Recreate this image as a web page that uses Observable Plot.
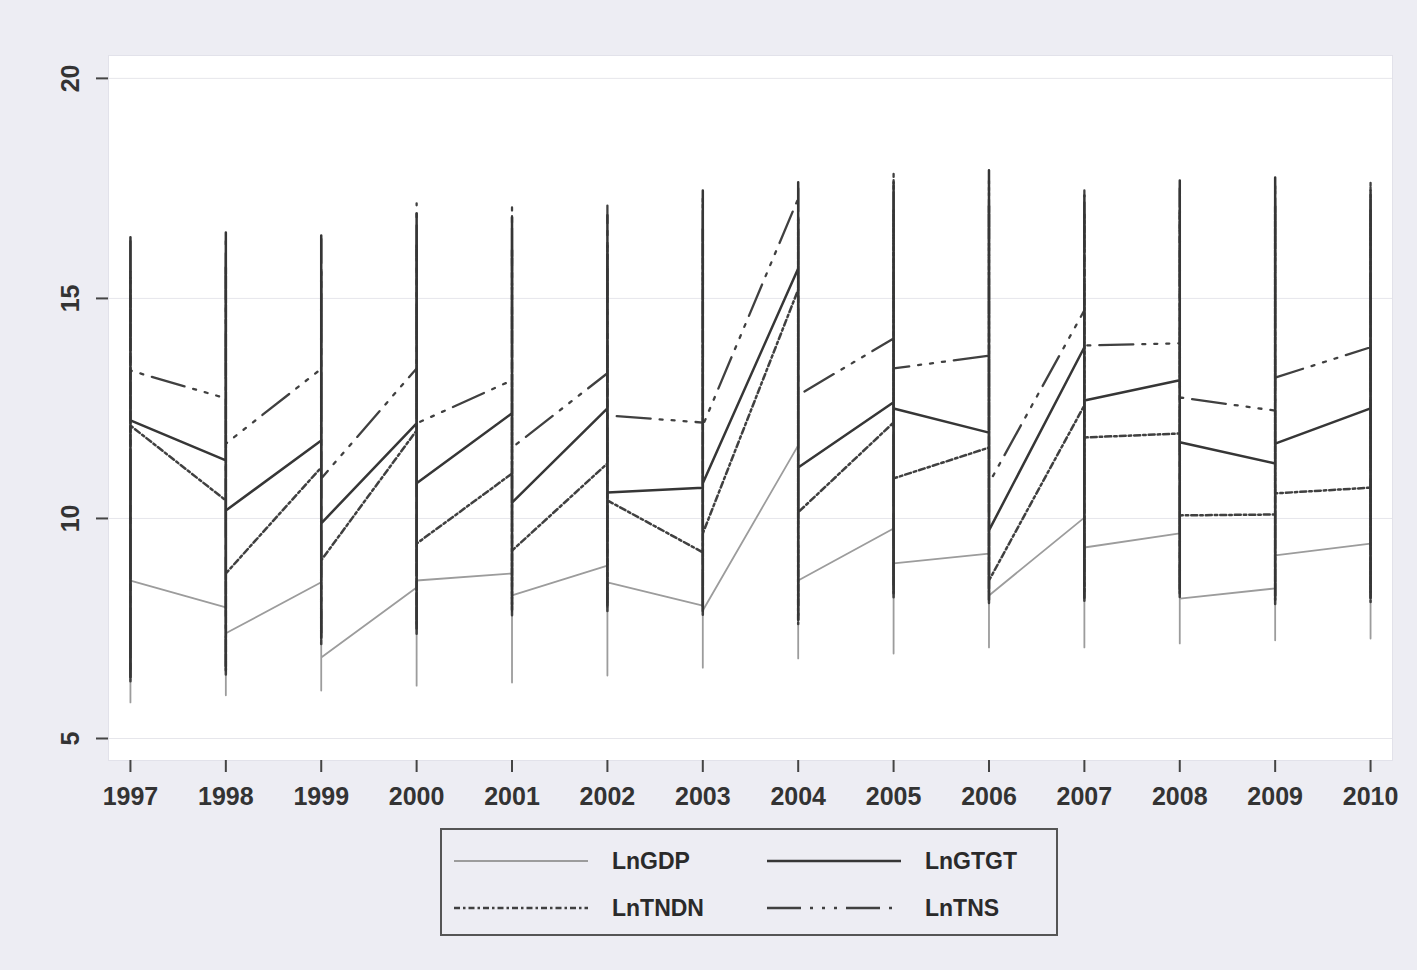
<!DOCTYPE html>
<html><head><meta charset="utf-8">
<script src="https://cdn.jsdelivr.net/npm/d3@7"></script>
<script src="https://cdn.jsdelivr.net/npm/@observablehq/plot@0.6"></script>
<style>
body{margin:0;background:#ededf3;font-family:"Liberation Sans",Arial,sans-serif;}
#wrap{position:relative;width:1417px;height:970px;overflow:hidden;}
#chart{position:absolute;left:0;top:0;}
#legend{position:absolute;left:440px;top:828px;width:614px;height:104px;border:2px solid #555;box-sizing:content-box;}
.item{position:absolute;height:30px;display:flex;align-items:center;}
.item span{font-size:23px;color:#2a2a2a;margin-left:22px;font-weight:bold;}
</style></head><body>
<div id="wrap"><div id="chart"></div><div id="legend"></div></div>
<script>
const years = [1997,1998,1999,2000,2001,2002,2003,2004,2005,2006,2007,2008,2009,2010];
const yTicks = [5,10,15,20];

// value where each series enters a year (first province) and leaves it (last province), plus the yearly min/max
const gdpIn   = [8.20,7.98,8.55,8.43,8.75,8.93,8.02,11.66,9.77,9.20,10.02,9.66,8.41,9.43];
const gdpOut  = [8.59,7.39,6.84,8.59,8.25,8.55,7.91,8.59,8.98,8.25,9.34,8.18,9.16,9.30];
const gdpLo   = [5.82,5.98,6.09,6.20,6.27,6.43,6.61,6.82,6.93,7.07,7.07,7.16,7.23,7.27];
const gdpHi   = [11.3,11.2,11.5,11.6,11.5,11.8,11.9,12.1,12.0,12.3,12.4,12.3,12.6,12.7];

const gtgtIn  = [12.00,11.32,11.77,12.16,12.39,12.50,10.70,15.68,12.64,11.95,13.89,13.14,11.25,12.50];
const gtgtOut = [12.23,10.18,9.89,10.80,10.36,10.59,10.80,11.16,12.50,9.73,12.68,11.73,11.70,12.30];
const gtgtLo  = [6.40,6.55,7.30,7.50,7.90,8.00,7.90,7.70,8.30,8.15,8.20,8.30,8.15,8.20];
const gtgtHi  = [16.39,16.50,16.43,16.93,16.84,16.89,17.45,17.64,17.64,17.91,17.34,17.68,17.75,17.45];

const tndnIn  = [11.50,10.41,11.16,12.00,11.02,11.25,9.23,15.20,12.18,11.61,12.57,11.93,10.09,10.70];
const tndnOut = [12.11,8.75,9.05,9.43,9.27,10.41,9.66,10.14,10.91,8.59,11.84,10.07,10.57,10.60];
const tndnLo  = [6.30,6.45,7.15,7.35,7.80,7.90,7.80,7.60,8.20,8.05,8.10,8.20,8.05,8.10];
const tndnHi  = [15.6,15.7,15.6,16.2,16.1,16.2,16.6,16.8,17.0,17.1,16.9,17.0,17.1,17.0];

const tnsIn   = [13.00,12.73,13.40,13.41,13.14,13.30,12.18,17.27,14.09,13.70,14.73,13.98,12.45,13.89];
const tnsOut  = [13.36,11.70,10.91,12.16,11.61,12.34,12.11,12.80,13.41,10.80,13.93,12.75,13.20,13.50];
const tnsLo   = [6.50,6.65,7.40,7.60,8.00,8.10,8.00,7.80,8.40,8.25,8.30,8.40,8.25,8.30];
const tnsHi   = [16.30,16.40,16.35,17.16,17.07,17.11,17.30,17.50,17.86,17.70,17.52,17.50,17.60,17.68];

const series = [
  {key:"LnGDP",  first:gdpIn,  last:gdpOut,  lo:gdpLo,  hi:gdpHi,  stroke:"#9c9c9c", width:1.8, dash:null},
  {key:"LnTNDN", first:tndnIn, last:tndnOut, lo:tndnLo, hi:tndnHi, stroke:"#404040", width:2.5, dash:"6,3,2.5,3"},
  {key:"LnTNS",  first:tnsIn,  last:tnsOut,  lo:tnsLo,  hi:tnsHi,  stroke:"#404040", width:2.3, dash:"34,9,3,9,3,9,3,9"},
  {key:"LnGTGT", first:gtgtIn, last:gtgtOut, lo:gtgtLo, hi:gtgtHi, stroke:"#363636", width:2.5, dash:null}
];

function pathRows(s){
  const rows = [];
  years.forEach((yr,i)=>{
    rows.push({year:yr, v:s.first[i]}, {year:yr, v:s.lo[i]}, {year:yr, v:s.hi[i]}, {year:yr, v:s.last[i]});
  });
  return rows;
}

const chart = Plot.plot({
  width:1417, height:820,
  marginLeft:108, marginRight:25, marginTop:55, marginBottom:60,
  x:{domain:[1996.77,2010.23], label:null},
  y:{domain:[4.5,20.52], label:null},
  style:{background:"transparent", fontFamily:"Liberation Sans, Arial, sans-serif"},
  marks:[
    Plot.frame({fill:"white", stroke:"#e2e2ea"}),
    Plot.gridY(yTicks, {stroke:"#d6d6de", strokeOpacity:0.6}),
    ...series.map(s => Plot.line(pathRows(s), {x:"year", y:"v", stroke:s.stroke, strokeWidth:s.width, strokeDasharray:s.dash, strokeLinejoin:"round"})),
    Plot.axisX({ticks:years, tickFormat:d=>String(d), tickSize:12, tickPadding:15, fontSize:25, fontWeight:"bold", line:true, stroke:"#444", fill:"#333", strokeWidth:2}),
    Plot.axisY({ticks:yTicks, tickFormat:()=>"", tickSize:12, line:true, stroke:"#444", strokeWidth:2}),
    Plot.text(yTicks, {y:d=>d, frameAnchor:"left", dx:-38, rotate:-90, text:d=>String(d), fontSize:25, fontWeight:"bold", fill:"#333", textAnchor:"middle"})
  ]
});
document.getElementById("chart").appendChild(chart);

// legend
const legendOrder = ["LnGDP","LnGTGT","LnTNDN","LnTNS"];
const leg = document.getElementById("legend");
legendOrder.forEach((k,i)=>{
  const s = series.find(d=>d.key===k);
  const col = i%2, row = Math.floor(i/2);
  const div = document.createElement("div");
  div.className = "item";
  div.style.left = (col===0 ? 10 : 323) + "px";
  div.style.top = (row===0 ? 16 : 63) + "px";
  div.innerHTML = `<svg width="138" height="10"><line x1="2" x2="136" y1="5" y2="5" stroke="${s.stroke}" stroke-width="${s.width}" ${s.dash?`stroke-dasharray="${s.dash}"`:""}/></svg><span>${k}</span>`;
  leg.appendChild(div);
});
</script>
</body></html>
